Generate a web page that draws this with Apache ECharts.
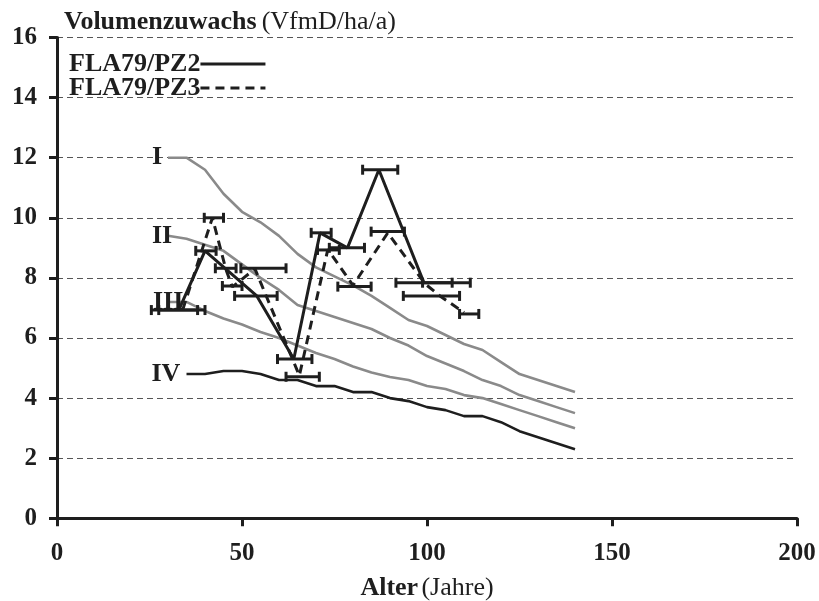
<!DOCTYPE html>
<html>
<head>
<meta charset="utf-8">
<title>Volumenzuwachs</title>
<script src="https://cdn.jsdelivr.net/npm/echarts@6/dist/echarts.min.js"></script>
<style>
    html, body { margin: 0; padding: 0; background: #fff; }
    #chart { width: 819px; height: 601px; }
</style>
</head>
<body>
<div id="chart"></div>
<script>
// Ertragstafel-Klassen I-III (grau) und IV (schwarz)
var classAge = [30, 35, 40, 45, 50, 55, 60, 65, 70, 75, 80, 85, 90, 95, 100, 105, 110, 115, 120, 125, 130, 135, 140];
var classI = [12.0, 12.0, 11.6, 10.8, 10.2, 9.85, 9.4, 8.8, 8.35, 8.05, 7.75, 7.4, 7.0, 6.6, 6.4, 6.1, 5.8, 5.6, 5.2, 4.8, 4.6, 4.4, 4.2];
var classII = [9.4, 9.3, 9.1, 8.9, 8.45, 8.0, 7.6, 7.1, 6.9, 6.7, 6.5, 6.3, 6.0, 5.75, 5.4, 5.15, 4.9, 4.6, 4.4, 4.1, 3.9, 3.7, 3.5];
var classIII = [7.2, 7.2, 6.9, 6.65, 6.45, 6.2, 6.0, 5.75, 5.5, 5.3, 5.05, 4.85, 4.7, 4.6, 4.4, 4.3, 4.1, 4.0, 3.8, 3.6, 3.4, 3.2, 3.0];
var classIVAge = [35, 40, 45, 50, 55, 60, 65, 70, 75, 80, 85, 90, 95, 100, 105, 110, 115, 120, 125, 130, 135, 140];
var classIV = [4.8, 4.8, 4.9, 4.9, 4.8, 4.6, 4.6, 4.4, 4.4, 4.2, 4.2, 4.0, 3.9, 3.7, 3.6, 3.4, 3.4, 3.2, 2.9, 2.7, 2.5, 2.3];

// Probeflaechen: Alter, Zuwachs und Altersspanne (Fehlerbalken)
var pz2Age = [33, 40, 54, 64, 71.1, 78.5, 87, 99.3];
var pz2Vol = [6.95, 8.9, 7.4, 5.3, 9.5, 9.0, 11.6, 7.8];
var pz2BarVol = [6.93, 8.9, 7.4, 5.3, 9.5, 9.0, 11.6, 7.84];
var pz2Lo = [25.5, 37.5, 48, 59.6, 68.7, 73.6, 82.6, 91.6];
var pz2Hi = [38, 43, 59.5, 68.9, 74.1, 83.1, 92.1, 106.8];

var pz3Age = [34, 42, 45.6, 47.4, 53.5, 65.5, 73.2, 80, 89.4, 99.5, 103.5, 110];
var pz3Vol = [6.95, 10.0, 8.3, 7.7, 8.3, 4.75, 8.95, 7.75, 9.5, 7.8, 7.4, 6.85];
var pz3BarVol = [6.93, 10.0, 8.32, 7.73, 8.32, 4.71, 8.93, 7.71, 9.54, 7.84, 7.4, 6.8];
var pz3Lo = [27.5, 39.8, 42.8, 44.7, 49.7, 61.9, 70.4, 75.9, 84.9, 98.8, 93.6, 108.8];
var pz3Hi = [40, 45, 48.4, 50, 61.9, 70.9, 76.3, 84.9, 93.9, 111.7, 108.8, 114];

var yTicks = [0, 2, 4, 6, 8, 10, 12, 14, 16];
var xTicks = [0, 50, 100, 150, 200];

var serif = '"Liberation Serif", "Times New Roman", serif';
var ink = '#1e1e1e';

function pairs(xs, ys) {
    return xs.map(function (x, i) { return [x, ys[i]]; });
}

function classSeries(name, ages, vals, color, labelShift) {
    var data = pairs(ages, vals);
    data[0] = {
        value: data[0],
        label: {
            show: true,
            formatter: name,
            position: 'left',
            distance: 0,
            align: 'left',
            verticalAlign: 'middle',
            offset: [labelShift, 0],
            color: ink,
            fontFamily: serif,
            fontWeight: 'bold',
            fontSize: 26
        }
    };
    return {
        name: name,
        type: 'line',
        data: data,
        symbol: 'circle',
        symbolSize: 0,
        showSymbol: true,
        silent: true,
        z: 2,
        lineStyle: { color: color, width: 2.6 },
        itemStyle: { color: color },
        label: { show: false },
        emphasis: { disabled: true }
    };
}

function barSeries(name, lo, hi, vals) {
    return {
        name: name,
        type: 'custom',
        silent: true,
        z: 4,
        data: lo.map(function (l, i) { return [l, hi[i], vals[i]]; }),
        renderItem: function (params, api) {
            var a = api.coord([api.value(0), api.value(2)]);
            var b = api.coord([api.value(1), api.value(2)]);
            var s = { stroke: ink, lineWidth: 3 };
            return {
                type: 'group',
                children: [
                    { type: 'line', shape: { x1: a[0], y1: a[1], x2: b[0], y2: b[1] }, style: s },
                    { type: 'line', shape: { x1: a[0], y1: a[1] - 5, x2: a[0], y2: a[1] + 5 }, style: s },
                    { type: 'line', shape: { x1: b[0], y1: b[1] - 5, x2: b[0], y2: b[1] + 5 }, style: s }
                ]
            };
        }
    };
}

var chart = echarts.init(document.getElementById('chart'));
var option = {
    backgroundColor: '#ffffff',
    animation: false,
    title: {
        text: '{b|Volumenzuwachs} {n|(VfmD/ha/a)}',
        left: 59,
        top: 4,
        textStyle: {
            rich: {
                b: { fontFamily: serif, fontWeight: 'bold', fontSize: 26, color: ink },
                n: { fontFamily: serif, fontWeight: 'normal', fontSize: 26, color: ink }
            }
        }
    },
    legend: {
        data: ['FLA79/PZ2', 'FLA79/PZ3'],
        orient: 'vertical',
        left: 64,
        top: 46,
        align: 'right',
        itemWidth: 65,
        itemHeight: 12,
        itemGap: -2,
        selectedMode: false,
        itemStyle: { opacity: 0 },
        lineStyle: { width: 3 },
        textStyle: { fontFamily: serif, fontWeight: 'bold', fontSize: 26, color: ink, padding: [0, -5, 0, 0] }
    },
    grid: {
        left: 57,
        right: 22,
        top: 37.5,
        bottom: 82.7,
        containLabel: false,
        outerBoundsMode: 'none'
    },
    xAxis: {
        type: 'value',
        min: xTicks[0],
        max: xTicks[xTicks.length - 1],
        interval: 50,
        name: '{b|Alter} {n|(Jahre)}',
        nameLocation: 'middle',
        nameGap: 57,
        nameTextStyle: {
            rich: {
                b: { fontFamily: serif, fontWeight: 'bold', fontSize: 26, color: ink },
                n: { fontFamily: serif, fontWeight: 'normal', fontSize: 26, color: ink }
            }
        },
        axisLine: { onZero: false, lineStyle: { color: ink, width: 3 } },
        axisTick: { show: true, inside: false, length: 8, lineStyle: { color: ink, width: 3 } },
        axisLabel: { margin: 23, fontFamily: serif, fontWeight: 'bold', fontSize: 25, color: ink },
        splitLine: { show: false }
    },
    yAxis: {
        type: 'value',
        min: yTicks[0],
        max: yTicks[yTicks.length - 1],
        interval: 2,
        axisLine: { show: true, onZero: false, lineStyle: { color: ink, width: 3 } },
        axisTick: { show: true, inside: false, length: 8, lineStyle: { color: ink, width: 3 } },
        axisLabel: { margin: 20, fontFamily: serif, fontWeight: 'bold', fontSize: 25, color: ink },
        splitLine: { show: true, lineStyle: { color: '#555', width: 1, type: [6, 4] } }
    },
    series: [
        classSeries('I', classAge, classI, '#8a8a8a', -16),
        classSeries('II', classAge, classII, '#8a8a8a', -16),
        classSeries('III', classAge, classIII, '#8a8a8a', -15),
        classSeries('IV', classIVAge, classIV, ink, -35),
        barSeries('PZ2 Spanne', pz2Lo, pz2Hi, pz2BarVol),
        barSeries('PZ3 Spanne', pz3Lo, pz3Hi, pz3BarVol),
        {
            name: 'FLA79/PZ2',
            type: 'line',
            data: pairs(pz2Age, pz2Vol),
            symbol: 'none',
            z: 5,
            lineStyle: { color: ink, width: 3 },
            itemStyle: { color: ink },
            emphasis: { disabled: true }
        },
        {
            name: 'FLA79/PZ3',
            type: 'line',
            data: pairs(pz3Age, pz3Vol),
            symbol: 'none',
            z: 5,
            lineStyle: { color: ink, width: 3, type: [9, 6] },
            itemStyle: { color: ink },
            emphasis: { disabled: true }
        }
    ]
};
chart.setOption(option);
</script>
</body>
</html>
